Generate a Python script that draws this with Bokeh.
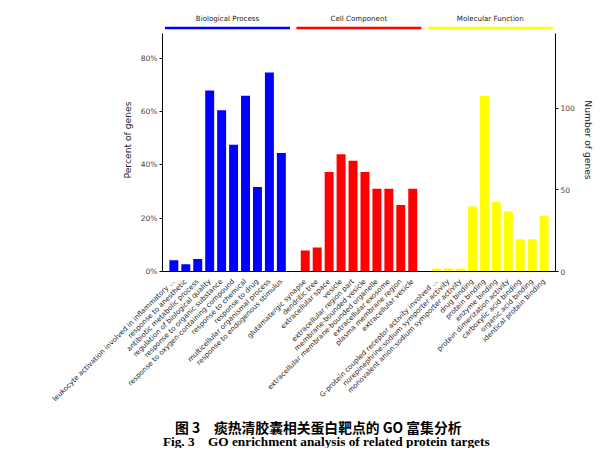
import math
from bokeh.plotting import figure
from bokeh.layouts import column
from bokeh.models import (Range1d, LinearAxis, FixedTicker, CustomJSTickFormatter,
                          ColumnDataSource)
from bokeh.core.properties import value
from bokeh.embed import file_html
from bokeh.resources import INLINE

# ---------------- data ----------------
groups = ["Biological Process", "Cell Component", "Molecular Function"]
group_colors = ["#0000FF", "#FF0000", "#FFFF00"]

bp_terms = ["leukocyte activation involved in inflammatory ...", "response to anesthetic",
            "antibiotic metabolic process", "regulation of biological quality",
            "response to organic substance", "response to oxygen-containing compound",
            "response to chemical", "response to drug", "multicellular organismal process",
            "response to endogenous stimulus"]
bp_pct = [4.2, 2.7, 4.7, 67.9, 60.5, 47.6, 66.0, 31.7, 74.7, 44.5]

cc_terms = ["glutamatergic synapse", "dendritic tree", "extracellular space", "vesicle",
            "extracellular region part", "membrane-bounded vesicle",
            "extracellular membrane-bounded organelle", "extracellular exosome",
            "plasma membrane region", "extracellular vesicle"]
cc_pct = [7.9, 9.0, 37.3, 44.0, 41.6, 37.3, 31.1, 31.1, 25.0, 31.1]

mf_terms = ["G-protein coupled receptor activity involved ...",
            "norepinephrine:sodium symporter activity",
            "monovalent anion:sodium symporter activity", "drug binding", "protein binding",
            "enzyme binding", "protein dimerization activity", "carboxylic acid binding",
            "organic acid binding", "identical protein binding"]
mf_pct = [1.1, 1.1, 1.1, 24.4, 65.9, 26.1, 22.5, 12.1, 12.1, 20.9]

total_genes = 163  # number of genes that equals 100 %
pct_ticks = [0, 20, 40, 60, 80]
count_ticks = [0, 50, 100]
caption_cn = "图 3\u3000痰热清胶囊相关蛋白靶点的 GO 富集分析"
caption_en = "Fig. 3\u2003GO enrichment analysis of related protein targets"

# ---------------- layout of bars ----------------
all_terms, all_pct, all_x, all_col = [], [], [], []
group_spans = []
slot = 0
for gi, (terms, pcts) in enumerate(zip([bp_terms, cc_terms, mf_terms], [bp_pct, cc_pct, mf_pct])):
    start = slot
    for t, v in zip(terms, pcts):
        all_terms.append(t)
        all_pct.append(v)
        all_x.append(slot)
        all_col.append(group_colors[gi])
        slot += 1
    group_spans.append((start, slot - 1))
    slot += 1  # empty slot between groups

y_top = 98.7
axis_top = 89.3
x_start, x_end = -0.95, all_x[-1] + 0.95

W = 596
H1, H2 = 410, 38
BL, BR = 162, 38
xr = Range1d(x_start, x_end)
p = figure(width=W, height=H1, output_backend="svg", toolbar_location=None,
           x_range=xr, y_range=Range1d(0, y_top),
           min_border_left=BL, min_border_right=BR, min_border_top=8,
           min_border_bottom=139, outline_line_color=None)
p.xgrid.visible = False
p.ygrid.visible = False
p.background_fill_color = "white"
p.border_fill_color = "white"

src = ColumnDataSource(dict(x=all_x, top=all_pct, color=all_col))
p.vbar(x="x", top="top", bottom=0, width=0.75, fill_color="color", line_color=None, source=src)

# group header bars and names
for (a, b), name, c in zip(group_spans, groups, group_colors):
    p.segment(x0=a - 0.74, x1=b + 0.72, y0=91.4, y1=91.4, line_color=c, line_width=2.6)
    p.text(x=[(a + b) / 2 - 0.01], y=[95.1], text=[name], text_align="center",
           text_baseline="middle", text_font=value("DejaVu Sans"), text_font_size="7.1px",
           text_color="#222222")

FONT = "DejaVu Sans"
# left axis
yax = p.yaxis[0]
yax.ticker = FixedTicker(ticks=pct_ticks)
yax.formatter = CustomJSTickFormatter(code="return tick + '%';")
yax.bounds = (0, axis_top)
yax.axis_label = "Percent of genes"
yax.axis_label_text_font = FONT
yax.axis_label_text_font_style = "normal"
yax.axis_label_text_font_size = "9.2px"
yax.axis_label_text_color = "#222222"
yax.axis_label_standoff = 5
yax.major_label_text_font = FONT
yax.major_label_text_font_size = "7.5px"
yax.major_label_text_color = "#444444"
yax.major_label_standoff = 2
yax.major_tick_out = 3
yax.major_tick_in = 0
yax.minor_tick_out = 0
yax.minor_tick_in = 0
yax.axis_line_color = "black"

# right axis (gene counts)
p.extra_y_ranges = {"cnt": Range1d(0, y_top * total_genes / 100)}
rax = LinearAxis(y_range_name="cnt")
rax.ticker = FixedTicker(ticks=count_ticks)
rax.bounds = (0, axis_top * total_genes / 100)
rax.axis_label = "Number of genes"
rax.axis_label_text_font = FONT
rax.axis_label_text_font_style = "normal"
rax.axis_label_text_font_size = "9.2px"
rax.axis_label_text_color = "#222222"
rax.axis_label_standoff = 5
rax.major_label_text_font = FONT
rax.major_label_text_font_size = "7.5px"
rax.major_label_text_color = "#444444"
rax.major_label_standoff = 2
rax.major_tick_out = 3
rax.major_tick_in = 0
rax.minor_tick_out = 0
rax.minor_tick_in = 0
p.add_layout(rax, "right")

# bottom axis
xax = p.xaxis[0]
xax.ticker = FixedTicker(ticks=all_x)
xax.major_label_overrides = {x: t for x, t in zip(all_x, all_terms)}
xax.major_label_orientation = math.pi / 4
xax.major_label_text_font = FONT
xax.major_label_text_font_size = "7px"
xax.major_label_text_color = "#222222"
xax.major_label_standoff = 9
xax.major_tick_out = 0
xax.major_tick_in = 0
xax.minor_tick_out = 0
xax.minor_tick_in = 0

# caption strip (its frame is aligned with the chart frame by the column layout)
cap = figure(width=W, height=H2, output_backend="svg", toolbar_location=None,
             x_range=xr, y_range=Range1d(0, H2),
             x_axis_type=None, y_axis_type=None,
             min_border_left=BL, min_border_right=BR, min_border_top=0, min_border_bottom=0,
             outline_line_color=None)
cap.xgrid.visible = False
cap.ygrid.visible = False
px_per_slot = (W - BL - BR) / (x_end - x_start)

def page_x(px):
    return x_start + (px - BL) / px_per_slot

cap.text(x=[page_x(319)], y=[H2 - 16], text=[caption_cn], text_align="center",
         text_baseline="middle", text_font=value("Noto Sans CJK SC"), text_font_style="bold",
         text_font_size="13.8px", text_color="black")
cap.text(x=[page_x(327)], y=[H2 - 31], text=[caption_en], text_align="center",
         text_baseline="middle", text_font=value("Liberation Serif"), text_font_style="bold",
         text_font_size="13.3px", text_color="black")

layout = column(p, cap, spacing=0)
open("out.html", "w").write(file_html(layout, INLINE))
